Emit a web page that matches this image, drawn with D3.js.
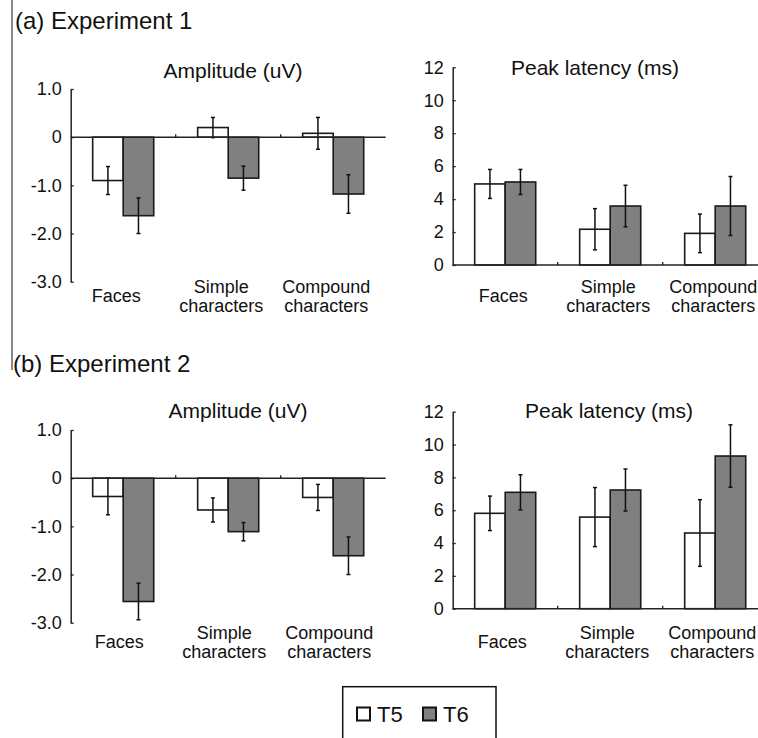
<!DOCTYPE html>
<html>
<head>
<meta charset="utf-8">
<script src="https://cdn.jsdelivr.net/npm/d3@7"></script>
<style>
  body { margin: 0; background: #fff; }
  svg { display: block; font-family: "Liberation Sans", Arial, sans-serif; }
</style>
</head>
<body>
<svg id="fig" width="758" height="738"></svg>
<script>
const W = 758, H = 738;

// categories, drawn as two lines where needed
const CATEGORIES = ["Faces", "Simple characters", "Compound characters"];
const CAT_LINES = [["Faces"], ["Simple", "characters"], ["Compound", "characters"]];
const SERIES = ["T5", "T6"];
const COLORS = { T5: "#ffffff", T6: "#808080" };

const AMP_TICKS = [1, 0, -1, -2, -3];
const LAT_TICKS = [0, 2, 4, 6, 8, 10, 12];

// experiment 1
const exp1AmpT5 = [-0.90, 0.20, 0.08];
const exp1AmpT5Err = [0.29, 0.21, 0.33];
const exp1AmpT6 = [-1.63, -0.85, -1.18];
const exp1AmpT6Err = [0.37, 0.25, 0.40];
const exp1LatT5 = [4.92, 2.17, 1.92];
const exp1LatT5Err = [0.88, 1.25, 1.17];
const exp1LatT6 = [5.04, 3.58, 3.58];
const exp1LatT6Err = [0.76, 1.26, 1.79];

// experiment 2
const exp2AmpT5 = [-0.38, -0.66, -0.40];
const exp2AmpT5Err = [0.38, 0.25, 0.27];
const exp2AmpT6 = [-2.56, -1.11, -1.61];
const exp2AmpT6Err = [0.38, 0.19, 0.39];
const exp2LatT5 = [5.81, 5.58, 4.61];
const exp2LatT5Err = [1.05, 1.80, 2.03];
const exp2LatT6 = [7.09, 7.23, 9.30];
const exp2LatT6Err = [1.07, 1.28, 1.90];

const svg = d3.select("#fig");
svg.append("rect").attr("width", W).attr("height", H).attr("fill", "#fff");

// grey rule down the left side
svg.append("line")
  .attr("x1", 12).attr("x2", 12).attr("y1", 0).attr("y2", 370)
  .attr("stroke", "#8a8a8a").attr("stroke-width", 2);

function rows(t5, t5e, t6, t6e) {
  return CATEGORIES.map((c, i) => ({
    cat: c,
    vals: [
      { s: "T5", v: t5[i], e: t5e[i] },
      { s: "T6", v: t6[i], e: t6e[i] }
    ]
  }));
}

function drawPanel(p) {
  const g = svg.append("g");
  const x = d3.scaleBand().domain(CATEGORIES).range([p.left, p.left + 315]);
  const xs = d3.scaleBand().domain(SERIES).range([0, x.bandwidth()]).paddingOuter(0.72);
  const y = d3.scaleLinear().domain(p.domain).range(p.range);

  const yAxis = d3.axisLeft(y)
    .tickValues(p.ticks)
    .tickFormat(p.fmt)
    .tickSize(-3)
    .tickSizeOuter(0)
    .tickPadding(9);

  const ya = g.append("g")
    .attr("transform", `translate(${p.left},0)`)
    .call(yAxis);
  ya.select(".domain").attr("stroke", "#222").attr("stroke-width", 1.5);
  ya.selectAll(".tick line").attr("stroke", "#222").attr("stroke-width", 1.3);
  ya.selectAll(".tick text")
    .attr("font-size", 18).attr("fill", "#111")
    .attr("font-family", "Liberation Sans, Arial, sans-serif");

  // bars
  const cg = g.selectAll(".cat").data(p.data).join("g")
    .attr("transform", d => `translate(${x(d.cat)},0)`);

  cg.selectAll("rect").data(d => d.vals).join("rect")
    .attr("x", d => xs(d.s))
    .attr("width", xs.bandwidth())
    .attr("y", d => y(Math.max(0, d.v)))
    .attr("height", d => Math.abs(y(d.v) - y(0)))
    .attr("fill", d => COLORS[d.s])
    .attr("stroke", "#1a1a1a")
    .attr("stroke-width", 1.6);

  // error bars
  const eg = cg.selectAll(".err").data(d => d.vals).join("g")
    .attr("transform", d => `translate(${xs(d.s) + xs.bandwidth() / 2},0)`)
    .attr("stroke", "#111").attr("stroke-width", 1.5);
  eg.append("line")
    .attr("y1", d => y(d.v + d.e)).attr("y2", d => y(d.v - d.e));
  eg.append("line").attr("x1", -2).attr("x2", 2)
    .attr("y1", d => y(d.v + d.e)).attr("y2", d => y(d.v + d.e));
  eg.append("line").attr("x1", -2).attr("x2", 2)
    .attr("y1", d => y(d.v - d.e)).attr("y2", d => y(d.v - d.e));

  // baseline with small ticks between categories
  g.append("line")
    .attr("x1", p.left).attr("x2", p.left + 315)
    .attr("y1", y(0)).attr("y2", y(0))
    .attr("stroke", "#222").attr("stroke-width", 1.5);
  g.selectAll(".xt").data(CATEGORIES.slice(1)).join("line")
    .attr("x1", d => x(d)).attr("x2", d => x(d))
    .attr("y1", y(0)).attr("y2", y(0) - 3)
    .attr("stroke", "#222").attr("stroke-width", 1.3);

  // category labels (sit a little left of the band centre in the original)
  const lab = g.selectAll(".lab").data(CAT_LINES).join("text")
    .attr("text-anchor", "middle")
    .attr("font-size", 18).attr("fill", "#111")
    .attr("x", (d, i) => x(CATEGORIES[i]) + x.bandwidth() / 2 + p.labShift)
    .attr("y", d => d.length === 1 ? p.labY + 9 : p.labY);
  lab.selectAll("tspan").data(d => d).join("tspan")
    .attr("x", function () { return this.parentNode.getAttribute("x"); })
    .attr("dy", (d, i) => i === 0 ? 0 : 19)
    .text(d => d);

  // panel title
  g.append("text")
    .attr("x", p.titleX).attr("y", p.titleY)
    .attr("text-anchor", "middle")
    .attr("font-size", 21).attr("fill", "#111")
    .text(p.title);
}

const ampFmt = d => d === 0 ? "0" : d.toFixed(1);
const latFmt = d => String(d);

// (a) Experiment 1
svg.append("text").attr("x", 15).attr("y", 29)
  .attr("font-size", 24).attr("fill", "#111").text("(a) Experiment 1");

drawPanel({
  left: 70.7, domain: [-3, 1], range: [281.7, 89], ticks: AMP_TICKS, fmt: ampFmt,
  data: rows(exp1AmpT5, exp1AmpT5Err, exp1AmpT6, exp1AmpT6Err),
  title: "Amplitude (uV)", titleX: 233, titleY: 78, labY: 293, labShift: -7
});
drawPanel({
  left: 452.7, domain: [0, 12], range: [265, 67.3], ticks: LAT_TICKS, fmt: latFmt,
  data: rows(exp1LatT5, exp1LatT5Err, exp1LatT6, exp1LatT6Err),
  title: "Peak latency (ms)", titleX: 595, titleY: 75, labY: 293, labShift: -2
});

// (b) Experiment 2
svg.append("text").attr("x", 13).attr("y", 372)
  .attr("font-size", 24).attr("fill", "#111").text("(b) Experiment 2");

drawPanel({
  left: 70.7, domain: [-3, 1], range: [622.7, 430], ticks: AMP_TICKS, fmt: ampFmt,
  data: rows(exp2AmpT5, exp2AmpT5Err, exp2AmpT6, exp2AmpT6Err),
  title: "Amplitude (uV)", titleX: 238, titleY: 418, labY: 639, labShift: -4
});
drawPanel({
  left: 452.7, domain: [0, 12], range: [608.7, 411.7], ticks: LAT_TICKS, fmt: latFmt,
  data: rows(exp2LatT5, exp2LatT5Err, exp2LatT6, exp2LatT6Err),
  title: "Peak latency (ms)", titleX: 609, titleY: 418, labY: 639, labShift: -3
});

// legend
const leg = svg.append("g");
leg.append("rect")
  .attr("x", 342.7).attr("y", 686.7).attr("width", 153.3).attr("height", 70)
  .attr("fill", "none").attr("stroke", "#111").attr("stroke-width", 1.5);
const li = leg.selectAll(".li").data(SERIES).join("g")
  .attr("transform", (d, i) => `translate(${357 + i * 66},707.5)`);
li.append("rect").attr("width", 13).attr("height", 13)
  .attr("fill", d => COLORS[d]).attr("stroke", "#111").attr("stroke-width", 2);
li.append("text").attr("x", 20).attr("y", 14.5)
  .attr("font-size", 22).attr("fill", "#111").text(d => d);
</script>
</body>
</html>
